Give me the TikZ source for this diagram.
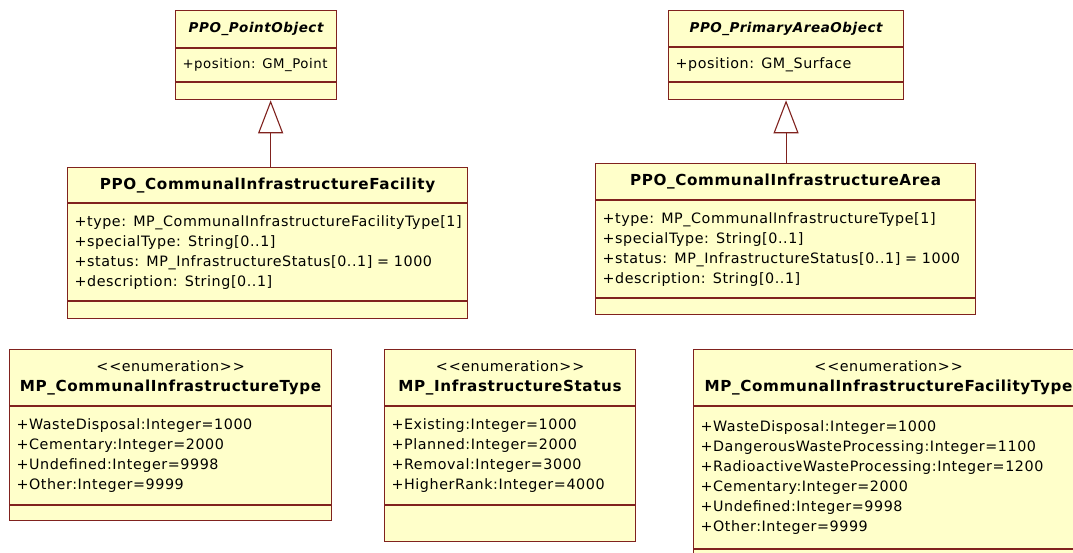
\documentclass[tikz,border=0pt]{standalone}
\usepackage{fontspec}
\setmainfont{DejaVu Sans}[LetterSpace=4]
\usetikzlibrary{positioning,arrows.meta,calc}
\definecolor{umlfill}{RGB}{255,255,202}
\definecolor{umlline}{RGB}{128,34,30}
\newcommand\umlfont{\fontsize{14.3}{20}\selectfont}
\newcommand\umlname[1]{{\fontsize{15.2}{21}\selectfont\bfseries #1}}
\newcommand\umlabstract[1]{{\fontsize{13.5}{20}\selectfont\bfseries\itshape #1}}

\begin{document}
\begin{tikzpicture}[x=1pt, y=-1pt,
    comp/.style={rectangle, draw=umlline, line width=1.1pt, fill=umlfill, inner sep=0pt, font=\umlfont},
    head/.style={comp, align=center, minimum width=#1},
    attr/.style={comp, align=left, minimum width=#1, text width=#1pt-14pt},
    ops/.style={comp, minimum width=#1},
    gen/.style={draw=umlline, line width=1.1pt, -{Triangle[open, length=33pt, width=25pt]}}]
  \path[fill=white, use as bounding box] (0,0) rectangle (1073,553);
  \clip (0,0) rectangle (1073,553);

  % abstract classes
  \node[head=161, minimum height=37pt, anchor=north west] (pobj) at (175,10) {\umlabstract{PPO\_PointObject}};
  \node[attr=161, font=\fontsize{13.3}{20}\selectfont, minimum height=33pt, below=0pt of pobj] (pobj-a) {\mbox{+position: GM\_Point}};
  \node[ops=161, minimum height=17pt, below=0pt of pobj-a] (pobj-o) {};

  \node[head=235, minimum height=36pt, anchor=north west] (aobj) at (668,10) {\umlabstract{PPO\_PrimaryAreaObject}};
  \node[attr=235, minimum height=34pt, below=0pt of aobj] (aobj-a) {+position: GM\_Surface};
  \node[ops=235, minimum height=17pt, below=0pt of aobj-a] (aobj-o) {};

  % feature classes
  \node[head=400, minimum height=35pt, anchor=north west] (facility) at (67,167) {\umlname{PPO\_CommunalInfrastructureFacility}};
  \node[attr=400, minimum height=97pt, below=0pt of facility] (facility-a) {+type: MP\_CommunalInfrastructureFacilityType[1]\\
    +specialType: String[0..1]\\
    +status: MP\_InfrastructureStatus[0..1] = 1000\\
    +description: String[0..1]};
  \node[ops=400, minimum height=17pt, below=0pt of facility-a] (facility-o) {};

  \node[head=380, minimum height=36pt, anchor=north west] (area) at (595,163) {\umlname{PPO\_CommunalInfrastructureArea}};
  \node[attr=380, minimum height=97pt, below=0pt of area] (area-a) {+type: MP\_CommunalInfrastructureType[1]\\
    +specialType: String[0..1]\\
    +status: MP\_InfrastructureStatus[0..1] = 1000\\
    +description: String[0..1]};
  \node[ops=380, minimum height=16pt, below=0pt of area-a] (area-o) {};

  % generalisations
  \coordinate (g1) at ($(pobj-o.south west)!0.59!(pobj-o.south east)$);
  \coordinate (g2) at ($(aobj-o.south west)!0.50!(aobj-o.south east)$);
  \draw[gen] (g1 |- facility.north) -- (g1);
  \draw[gen] (g2 |- area.north) -- (g2);

  % enumerations
  \node[head=322, minimum height=56pt, anchor=north west] (enumtype) at (9,349) {<\kern1pt<enumeration>\kern1pt>\\\umlname{MP\_CommunalInfrastructureType}};
  \node[attr=322, minimum height=98pt, below=0pt of enumtype] (enumtype-a) {+WasteDisposal:Integer=1000\\
    +Cementary:Integer=2000\\
    +Undefined:Integer=9998\\
    +Other:Integer=9999};
  \node[ops=322, minimum height=15pt, below=0pt of enumtype-a] (enumtype-o) {};

  \node[head=251, minimum height=56pt, anchor=north west] (enumstatus) at (384,349) {<\kern1pt<enumeration>\kern1pt>\\\umlname{MP\_InfrastructureStatus}};
  \node[attr=251, minimum height=98pt, below=0pt of enumstatus] (enumstatus-a) {+Existing:Integer=1000\\
    +Planned:Integer=2000\\
    +Removal:Integer=3000\\
    +HigherRank:Integer=4000};
  \node[ops=251, minimum height=36pt, below=0pt of enumstatus-a] (enumstatus-o) {};

  \node[head=390, minimum height=56pt, anchor=north west] (enumfac) at (693,349) {<\kern1pt<enumeration>\kern1pt>\\\umlname{MP\_CommunalInfrastructureFacilityType}};
  \node[attr=390, minimum height=142pt, below=0pt of enumfac] (enumfac-a) {+WasteDisposal:Integer=1000\\
    +DangerousWasteProcessing:Integer=1100\\
    +RadioactiveWasteProcessing:Integer=1200\\
    +Cementary:Integer=2000\\
    +Undefined:Integer=9998\\
    +Other:Integer=9999};
  \node[ops=390, minimum height=20pt, below=0pt of enumfac-a] (enumfac-o) {};
\end{tikzpicture}
\end{document}
